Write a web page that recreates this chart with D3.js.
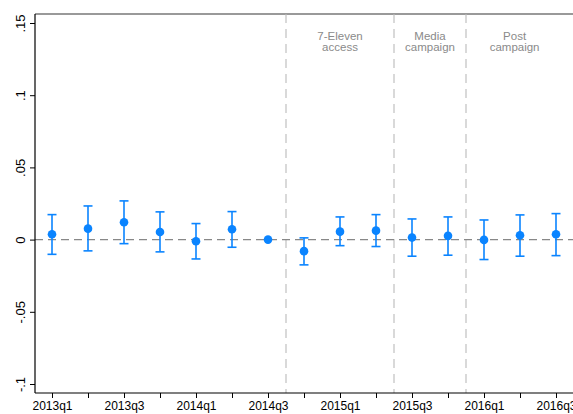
<!DOCTYPE html>
<html>
<head>
<meta charset="utf-8">
<script src="https://cdn.jsdelivr.net/npm/d3@7"></script>
<style>
  body { margin: 0; background: #fff; }
  svg { display: block; font-family: "Liberation Sans", Arial, sans-serif; }
</style>
</head>
<body>
<svg width="573" height="414"></svg>
<script>
// quarters shown on the axis (2016q4 tick sits outside the window)
const quarters = ["2013q1", "2013q2", "2013q3", "2013q4", "2014q1", "2014q2", "2014q3", "2014q4",
  "2015q1", "2015q2", "2015q3", "2015q4", "2016q1", "2016q2", "2016q3", "2016q4"];

// coefficient estimates and 95% CI bounds, 2014q3 is the omitted reference
const coef = [0.0037, 0.0076, 0.0120, 0.0053, -0.0011, 0.0072, 0, -0.0080, 0.0055, 0.0062, 0.0014, 0.0026, -0.0002, 0.0030, 0.0037];
const ciLow = [-0.0102, -0.0078, -0.0028, -0.0085, -0.0134, -0.0053, null, -0.0175, -0.0042, -0.0048, -0.0115, -0.0108, -0.0138, -0.0115, -0.0111];
const ciHigh = [0.0173, 0.0233, 0.0268, 0.0192, 0.0111, 0.0194, null, 0.0012, 0.0157, 0.0173, 0.0143, 0.0157, 0.0136, 0.0171, 0.0180];

const yTicks = [-0.1, -0.05, 0, 0.05, 0.1, 0.15];
const yLabels = ["-.1", "-.05", "0", ".05", ".1", ".15"];

// period breaks (between quarters) and their labels
const breaks = [6.5, 9.5, 11.5];
const periods = [
  { from: 6.5, to: 9.5, lines: ["7-Eleven", "access"] },
  { from: 9.5, to: 11.5, lines: ["Media", "campaign"] },
  { from: 11.5, to: 14.2, lines: ["Post", "campaign"] }
];

const svg = d3.select("svg");
const blue = "#0a84ff";

const plotL = 35, plotT = 14, plotB = 393, plotR = 620;

const x = d3.scaleLinear().domain([0, 14]).range([52, 556]);
const y = d3.scaleLinear().domain([-0.1, 0.15]).range([384, 23]);

// top border
svg.append("line")
  .attr("x1", plotL).attr("x2", plotR)
  .attr("y1", plotT).attr("y2", plotT)
  .attr("stroke", "#777").attr("stroke-width", 1.6);

// period separators
svg.selectAll(".brk").data(breaks).enter().append("line")
  .attr("x1", d => x(d)).attr("x2", d => x(d))
  .attr("y1", plotT).attr("y2", plotB)
  .attr("stroke", "#bbb").attr("stroke-width", 1.1)
  .attr("stroke-dasharray", "9,6");

// period labels
const pl = svg.selectAll(".per").data(periods).enter().append("text")
  .attr("x", d => (x(d.from) + x(d.to)) / 2)
  .attr("text-anchor", "middle")
  .attr("fill", "#8a8a8a")
  .attr("font-size", 11.5);
pl.each(function (d) {
  const t = d3.select(this);
  d.lines.forEach((s, i) => {
    t.append("tspan").attr("x", t.attr("x")).attr("y", 40 + i * 10.5).text(s);
  });
});

// zero line
svg.append("line")
  .attr("x1", plotL).attr("x2", plotR)
  .attr("y1", y(0)).attr("y2", y(0))
  .attr("stroke", "#888").attr("stroke-width", 1.3)
  .attr("stroke-dasharray", "8,5");

// y axis
const yAxis = svg.append("g")
  .attr("transform", `translate(${plotL},0)`)
  .call(d3.axisLeft(y).tickValues(yTicks).tickSize(5).tickFormat((d, i) => yLabels[i]));
yAxis.select(".domain").attr("d", `M0,${plotT}V${plotB}`).attr("stroke", "#000").attr("stroke-width", 1.2);
yAxis.selectAll(".tick line").attr("stroke", "#000");
yAxis.selectAll(".tick text")
  .attr("font-size", 13)
  .attr("font-family", "Liberation Sans, Arial, sans-serif")
  .attr("fill", "#000")
  .attr("text-anchor", "middle")
  .attr("transform", "rotate(-90)")
  .attr("x", 0).attr("y", -10).attr("dy", 0);

// x axis
const xAxis = svg.append("g")
  .attr("transform", `translate(0,${plotB})`)
  .call(d3.axisBottom(x).tickValues(d3.range(quarters.length)).tickSize(5)
    .tickFormat(i => (i % 2 === 0 ? quarters[i] : "")));
xAxis.select(".domain").attr("d", `M${plotL},0H${plotR}`).attr("stroke", "#000").attr("stroke-width", 1.2);
xAxis.selectAll(".tick line").attr("stroke", "#000");
xAxis.selectAll(".tick text")
  .attr("font-size", 12)
  .attr("font-family", "Liberation Sans, Arial, sans-serif")
  .attr("fill", "#000")
  .attr("y", 8).attr("dy", "0.71em");

// confidence intervals
const idx = d3.range(coef.length).filter(i => ciLow[i] !== null);
const ci = svg.append("g").attr("stroke", blue).attr("stroke-width", 1.6).attr("fill", "none");
ci.selectAll(".v").data(idx).enter().append("line")
  .attr("x1", i => x(i)).attr("x2", i => x(i))
  .attr("y1", i => y(ciLow[i])).attr("y2", i => y(ciHigh[i]));
ci.selectAll(".lo").data(idx).enter().append("line")
  .attr("x1", i => x(i) - 4.5).attr("x2", i => x(i) + 4.5)
  .attr("y1", i => y(ciLow[i])).attr("y2", i => y(ciLow[i]));
ci.selectAll(".hi").data(idx).enter().append("line")
  .attr("x1", i => x(i) - 4.5).attr("x2", i => x(i) + 4.5)
  .attr("y1", i => y(ciHigh[i])).attr("y2", i => y(ciHigh[i]));

// point estimates
svg.selectAll(".pt").data(coef).enter().append("circle")
  .attr("cx", (d, i) => x(i))
  .attr("cy", d => y(d))
  .attr("r", 4.3)
  .attr("fill", blue);
</script>
</body>
</html>
